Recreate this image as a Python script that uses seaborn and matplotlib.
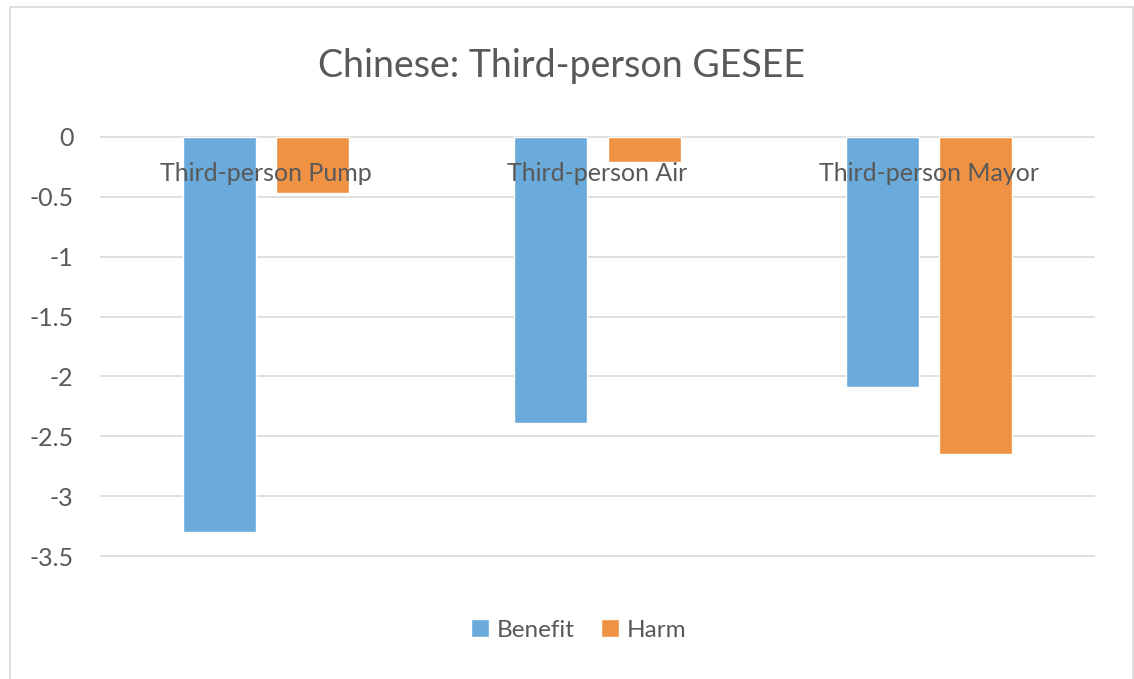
import numpy as np
import pandas as pd
import seaborn as sns
import matplotlib.pyplot as plt
from matplotlib.lines import Line2D

# Chart data
categories = ["Third-person Pump", "Third-person Air", "Third-person Mayor"]
series_names = ["Benefit", "Harm"]
benefit = [-3.30, -2.39, -2.09]
harm = [-0.47, -0.21, -2.65]
y_ticks = [0, -0.5, -1, -1.5, -2, -2.5, -3, -3.5]
y_tick_labels = ["0", "-0.5", "-1", "-1.5", "-2", "-2.5", "-3", "-3.5"]
title = "Chinese: Third-person GESEE"

df = pd.DataFrame({
    "category": categories * 2,
    "series": [series_names[0]] * len(categories) + [series_names[1]] * len(categories),
    "value": benefit + harm,
})

BLUE = "#6AABDB"
ORANGE = "#F09243"
TEXT = "#595959"
GRID = "#D9D9D9"

sns.set_theme(style="white")
plt.rcParams["font.family"] = ["Lato", "DejaVu Sans"]

W, H = 1134, 679
fig = plt.figure(figsize=(W / 100, H / 100), dpi=100)
fig.patch.set_facecolor("white")

ax = fig.add_axes([100 / W, 1 - 557 / H, 995 / W, 421 / H])
sns.barplot(
    data=df, x="category", y="value", hue="series",
    order=categories, hue_order=series_names,
    palette=[BLUE, ORANGE], saturation=1, errorbar=None,
    width=0.564, gap=0.22, ax=ax,
)

ax.set_xlim(-0.5, 2.5)
ax.set_ylim(-3.506, 0.006)
ax.set_yticks(y_ticks)
ax.set_yticklabels(y_tick_labels)
ax.set_xlabel("")
ax.set_ylabel("")
for s in ax.spines.values():
    s.set_visible(False)
ax.yaxis.grid(True, color=GRID, linewidth=1.2)
ax.set_axisbelow(True)
# category labels sit on top of the bars, gridlines stay behind them
ax.xaxis.set_zorder(5)

ax.tick_params(axis="y", length=0, pad=19, labelsize=18, labelcolor=TEXT)
ax.tick_params(axis="x", length=0, bottom=False, labelbottom=False,
               top=True, labeltop=True, pad=-35, labelsize=18, labelcolor=TEXT)

leg = ax.legend(
    loc="center", bbox_to_anchor=(578.5 / W, 1 - 630 / H), bbox_transform=fig.transFigure,
    ncol=2, frameon=False, fontsize=17.5, handlelength=0.75, handleheight=0.75,
    handletextpad=0.3, columnspacing=1.1,
)
for t in leg.get_texts():
    t.set_color(TEXT)

fig.text(561 / W, 1 - 66 / H, title, ha="center", va="center",
         fontsize=27, color=TEXT)

# Chart area border (left, top, right)
x0, x1, y0 = 9.5 / W, 1133 / W, 1 - 7 / H
for xs, ys in [([x0, x0], [y0, -0.1]), ([x0, x1], [y0, y0]), ([x1, x1], [y0, -0.1])]:
    fig.add_artist(Line2D(xs, ys, color=GRID, linewidth=1.2, transform=fig.transFigure))

fig.savefig("out.png", dpi=100)
